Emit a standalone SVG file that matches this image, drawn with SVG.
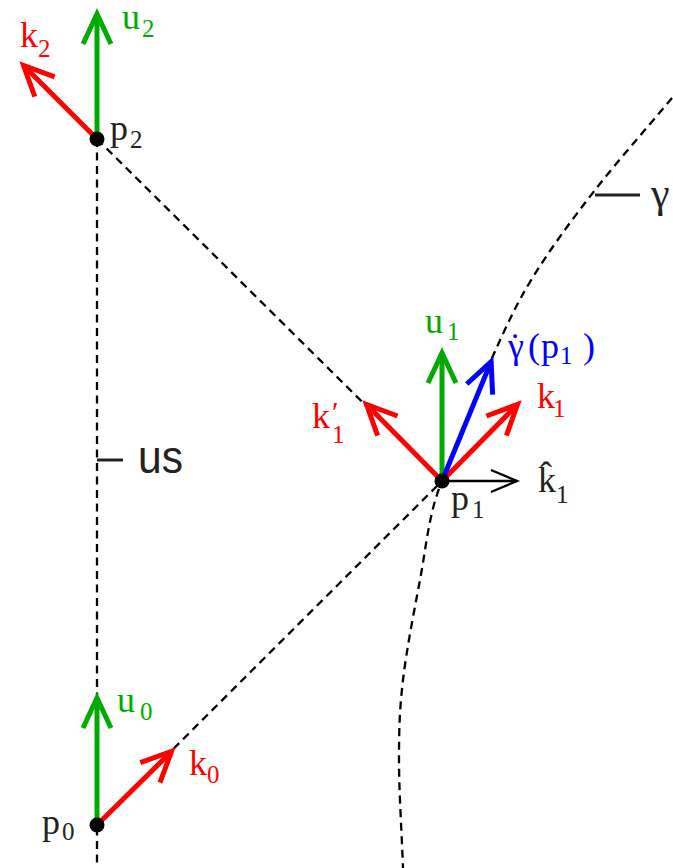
<svg xmlns="http://www.w3.org/2000/svg" width="673" height="868" viewBox="0 0 673 868">
<style>
.dash{fill:none;stroke:#000;stroke-width:2.3;stroke-dasharray:8 5.5}
.tick{stroke:#222;stroke-width:3}
.vec{fill:none;stroke-width:5}
.red{stroke:#ff0000}
.green{stroke:#00aa00}
.blue{stroke:#0000ff}
.m{font-family:"Liberation Serif","DejaVu Serif",serif;font-size:36px}
.s{font-family:"Liberation Serif","DejaVu Serif",serif;font-size:25px}
.tr{fill:#ff0000}
.tg{fill:#00aa00}
.tb{fill:#0000ff}
.tk{fill:#222}
.dot{fill:#000}
</style>
<defs>
<marker id="hr" markerUnits="userSpaceOnUse" orient="auto" refX="0" refY="0" markerWidth="80" markerHeight="80" viewBox="-40 -40 80 80" overflow="visible"><path d="M-30,-14 L0,0 L-30,14" fill="none" stroke="#ff0000" stroke-width="5"/></marker>
<marker id="hg" markerUnits="userSpaceOnUse" orient="auto" refX="0" refY="0" markerWidth="80" markerHeight="80" viewBox="-40 -40 80 80" overflow="visible"><path d="M-30,-14 L0,0 L-30,14" fill="none" stroke="#00aa00" stroke-width="5"/></marker>
<marker id="hb" markerUnits="userSpaceOnUse" orient="auto" refX="0" refY="0" markerWidth="80" markerHeight="80" viewBox="-40 -40 80 80" overflow="visible"><path d="M-30,-14 L0,0 L-30,14" fill="none" stroke="#0000ff" stroke-width="5"/></marker>
<marker id="hk" markerUnits="userSpaceOnUse" orient="auto" refX="0" refY="0" markerWidth="80" markerHeight="80" viewBox="-40 -40 80 80" overflow="visible"><path d="M-26,-11 L0,0 L-26,11" fill="none" stroke="#000" stroke-width="2.4"/></marker>
</defs>
<g id="connectors">
<path class="dash" d="M97,139 L97,868"/>
<path class="dash" d="M97,139 L442,481"/>
<path class="dash" d="M97,825 L442,481"/>
<path id="gamma" class="dash" d="M672,98 C646.3,128.8 618.2,160.2 595,190 C571.8,219.8 550.2,249 533,277 C515.8,305 507.3,324.2 492,358 C476.4,394.8 457.3,444.1 442,481 C428.6,513.3 426.3,546.7 420,580 C413.7,613.3 406.5,650 403,680 C399.5,710 399,728.7 399,760 C399,791.3 401.7,832 403,868"/>
<line class="tick" x1="97" y1="460" x2="123" y2="460"/>
<line class="tick" x1="595" y1="195" x2="640" y2="195"/>
</g>
<g id="p2">
<path class="vec green" d="M97,139 L97,14" marker-end="url(#hg)"/>
<path class="vec red" d="M97,139 L23.5,65.5" marker-end="url(#hr)"/>
<circle class="dot" cx="97" cy="139" r="7.5"/>
<text class="tr"><tspan class="m" x="20" y="47">k</tspan><tspan class="s" x="38" y="57">2</tspan></text>
<text class="tg"><tspan class="m" x="122" y="29">u</tspan><tspan class="s" x="142" y="37">2</tspan></text>
<text class="tk"><tspan class="m" x="110" y="140">p</tspan><tspan class="s" x="130" y="148">2</tspan></text>
</g>
<g id="p1">
<path class="vec green" d="M442,481 L442,353" marker-end="url(#hg)"/>
<path class="vec red" d="M442,481 L366.5,404.5" marker-end="url(#hr)"/>
<path class="vec red" d="M442,481 L517.5,404.5" marker-end="url(#hr)"/>
<path class="vec blue" d="M442,481 L491.1,361.6" marker-end="url(#hb)"/>
<path fill="none" stroke="#000" stroke-width="2.4" d="M442,481 L517,481" marker-end="url(#hk)"/>
<circle class="dot" cx="442" cy="481" r="7.5"/>
<text class="tg"><tspan class="m" x="425" y="333">u</tspan><tspan class="s" x="447" y="340">1</tspan></text>
<text class="tb"><tspan class="m" x="508" y="358">γ</tspan><tspan class="m" x="509" y="358">˙</tspan><tspan class="m" x="528" y="358">(</tspan><tspan class="m" x="541" y="358">p</tspan><tspan class="s" x="560" y="364">1</tspan><tspan class="m" x="583" y="358">)</tspan></text>
<text class="tr"><tspan class="m" x="537" y="408">k</tspan><tspan class="s" x="553" y="417">1</tspan></text>
<text class="tr"><tspan class="m" x="312" y="428">k</tspan><tspan class="m" x="332" y="422" style="font-size:30px">′</tspan><tspan class="s" x="332" y="443">1</tspan></text>
<text class="tk"><tspan class="m" x="538" y="492">k</tspan><tspan class="m" x="540" y="487">ˆ</tspan><tspan class="s" x="556" y="503">1</tspan></text>
<text class="tk"><tspan class="m" x="451" y="510">p</tspan><tspan class="s" x="472" y="518">1</tspan></text>
</g>
<g id="p0">
<path class="vec green" d="M97,825 L97,698" marker-end="url(#hg)"/>
<path class="vec red" d="M97,825 L171.5,751.5" marker-end="url(#hr)"/>
<circle class="dot" cx="97" cy="825" r="7.5"/>
<text class="tg"><tspan class="m" x="117" y="712">u</tspan><tspan class="s" x="140" y="720">0</tspan></text>
<text class="tr"><tspan class="m" x="189" y="775">k</tspan><tspan class="s" x="207" y="783">0</tspan></text>
<text class="tk"><tspan class="m" x="42" y="834">p</tspan><tspan class="s" x="62" y="840">0</tspan></text>
</g>
<g id="labels">
<text x="138" y="473" font-family="Liberation Sans, Arial, sans-serif" font-size="46" fill="#222" textLength="45" lengthAdjust="spacingAndGlyphs">us</text>
<text x="651" y="207" font-family="Liberation Serif, serif" font-size="42" fill="#222">γ</text>
</g>
</svg>
